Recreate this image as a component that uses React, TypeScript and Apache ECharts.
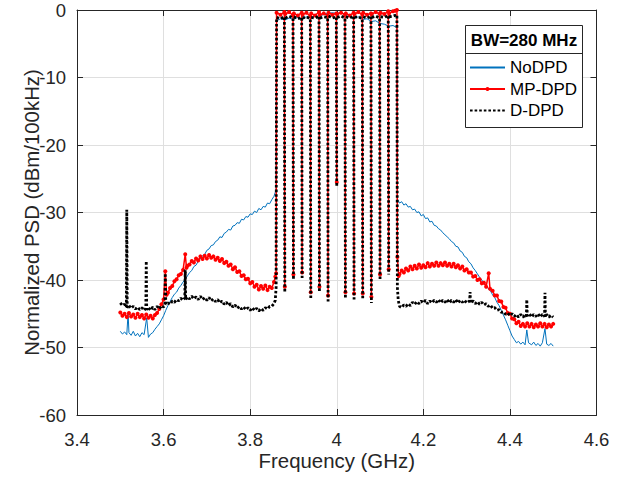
import React, { useEffect, useRef } from "react";
import * as echarts from "echarts";

// ---------- data (frequency in GHz, normalized PSD in dBm/100kHz) ----------
const xTicks = [3.4, 3.6, 3.8, 4.0, 4.2, 4.4, 4.6];
const yTicks = [-60, -50, -40, -30, -20, -10, 0];

type Pt = [number, number | null];

// NoDPD
const noDpdLeft: Pt[] = [
  [3.5, -47.6], [3.505, -48.0], [3.51, -47.7], [3.515, -48.1], [3.518, -44.9], [3.52, -47.8],
  [3.525, -48.2], [3.53, -47.6], [3.535, -48.3], [3.54, -47.9], [3.545, -48.4], [3.55, -47.8],
  [3.555, -48.1], [3.561, -45.6], [3.565, -48.5], [3.57, -48.0], [3.575, -47.8], [3.58, -47.3],
  [3.585, -46.9], [3.59, -46.5], [3.595, -45.9], [3.6, -45.3], [3.605, -44.5], [3.61, -43.8],
  [3.615, -43.2], [3.62, -42.6], [3.625, -42.1], [3.63, -41.8], [3.635, -41.2], [3.64, -40.8],
  [3.645, -40.3], [3.65, -39.9], [3.655, -39.4], [3.66, -38.9], [3.665, -38.6], [3.67, -38.0],
  [3.675, -37.8], [3.68, -37.2], [3.685, -36.9], [3.69, -36.4], [3.695, -36.2], [3.7, -35.6],
  [3.705, -35.4], [3.71, -34.9], [3.715, -34.8], [3.72, -34.3], [3.725, -34.1], [3.73, -33.6],
  [3.735, -33.7], [3.74, -33.1], [3.745, -32.9], [3.75, -32.5], [3.755, -32.6], [3.76, -32.0],
  [3.765, -31.9], [3.77, -31.5], [3.775, -31.6], [3.78, -31.0], [3.785, -31.1], [3.79, -30.6],
  [3.795, -30.7], [3.8, -30.2], [3.805, -30.3], [3.81, -29.8], [3.815, -30.0], [3.82, -29.4],
  [3.825, -29.6], [3.83, -29.1], [3.835, -29.2], [3.84, -28.6], [3.845, -28.7], [3.85, -28.1],
  [3.855, -27.6], [3.858, -27.0], [3.86, -26.5],
];
const noDpdInband: Pt[] = [
  [3.861, -1.6], [3.87, -1.3], [3.88, -1.5], [3.89, -1.2], [3.9, -1.4], [3.91, -1.1],
  [3.92, -1.3], [3.93, -1.0], [3.94, -1.2], [3.95, -0.9], [3.96, -1.1], [3.97, -0.6],
  [3.98, -0.5], [3.99, -0.4], [4.0, -0.5], [4.01, -0.4], [4.02, -0.6], [4.03, -0.9],
  [4.04, -1.2], [4.05, -1.0], [4.06, -1.4], [4.07, -1.3], [4.08, -1.7], [4.09, -1.6],
  [4.1, -2.0], [4.11, -2.1], [4.12, -2.4], [4.13, -2.3], [4.139, -2.6],
];
const noDpdRight: Pt[] = [
  [4.14, -28.0], [4.145, -28.6], [4.15, -28.4], [4.155, -28.9], [4.16, -28.7], [4.165, -29.2],
  [4.17, -29.1], [4.175, -29.6], [4.18, -29.5], [4.185, -30.0], [4.19, -29.9], [4.195, -30.5],
  [4.2, -30.3], [4.205, -30.9], [4.21, -30.8], [4.215, -31.4], [4.22, -31.3], [4.225, -31.9],
  [4.23, -32.0], [4.235, -32.4], [4.24, -32.6], [4.245, -33.0], [4.25, -33.3], [4.255, -33.6],
  [4.26, -33.9], [4.265, -34.3], [4.27, -34.5], [4.275, -35.0], [4.28, -35.1], [4.285, -35.7],
  [4.29, -35.9], [4.295, -36.5], [4.3, -36.7], [4.305, -37.3], [4.31, -37.6], [4.315, -38.2],
  [4.32, -38.6], [4.325, -39.1], [4.33, -39.6], [4.335, -40.0], [4.34, -40.5], [4.345, -40.8],
  [4.35, -41.3], [4.355, -41.6], [4.36, -42.2], [4.365, -42.6], [4.37, -43.3], [4.375, -43.8],
  [4.38, -44.5], [4.385, -45.2], [4.39, -45.9], [4.395, -46.7], [4.4, -47.5], [4.405, -48.3],
  [4.41, -48.8], [4.415, -49.3], [4.42, -49.1], [4.425, -49.5], [4.43, -49.2], [4.435, -49.6],
  [4.439, -47.4], [4.443, -49.3], [4.45, -49.6], [4.455, -49.2], [4.46, -49.7], [4.465, -49.4],
  [4.47, -49.8], [4.475, -49.3], [4.481, -47.2], [4.485, -49.5], [4.49, -49.7], [4.495, -49.4],
  [4.5, -49.8],
];

// MP-DPD
const mpDpdLeft: Pt[] = [
  [3.5, -44.8], [3.505, -45.3], [3.51, -45.0], [3.515, -45.5], [3.52, -44.9], [3.525, -45.4],
  [3.53, -45.1], [3.535, -45.6], [3.54, -45.0], [3.545, -45.5], [3.55, -45.2], [3.555, -45.7],
  [3.56, -45.1], [3.565, -45.6], [3.57, -45.3], [3.575, -45.7], [3.58, -45.2], [3.585, -44.9],
  [3.59, -44.3], [3.595, -43.6], [3.6, -42.9], [3.604, -38.7], [3.607, -42.2], [3.61, -41.9],
  [3.615, -41.2], [3.62, -40.9], [3.625, -40.2], [3.63, -39.9], [3.635, -39.3], [3.64, -39.1],
  [3.645, -38.5], [3.65, -36.2], [3.653, -38.2], [3.655, -37.9], [3.66, -37.7], [3.665, -37.2],
  [3.67, -37.4], [3.675, -36.8], [3.68, -37.1], [3.685, -36.5], [3.69, -36.9], [3.695, -36.4],
  [3.7, -36.8], [3.705, -36.3], [3.71, -36.7], [3.715, -36.5], [3.72, -37.0], [3.725, -36.7],
  [3.73, -37.2], [3.735, -36.9], [3.74, -37.5], [3.745, -37.3], [3.75, -37.9], [3.755, -37.7],
  [3.76, -38.4], [3.765, -38.1], [3.77, -38.8], [3.775, -38.7], [3.78, -39.4], [3.785, -39.3],
  [3.79, -39.9], [3.795, -39.8], [3.8, -40.5], [3.805, -40.3], [3.81, -41.0], [3.815, -40.7],
  [3.82, -41.4], [3.825, -40.9], [3.83, -41.3], [3.835, -40.8], [3.84, -41.5], [3.845, -41.0],
  [3.85, -41.2], [3.855, -40.3], [3.858, -39.5], [3.86, -39.0],
];
const mpDpdInband: Pt[] = [
  [3.861, -0.4], [3.87, -0.7], [3.879, -0.3], [3.88, -41.0], [3.8805, null],
  [3.881, -0.6], [3.89, -0.3], [3.899, -0.8], [3.9, -39.2], [3.9005, null],
  [3.901, -0.5], [3.91, -0.8], [3.919, -0.4], [3.92, -38.9], [3.9205, null],
  [3.921, -0.7], [3.93, -0.4], [3.939, -0.9], [3.94, -41.8], [3.9405, null],
  [3.941, -0.5], [3.95, -0.8], [3.959, -0.3], [3.96, -41.0], [3.9605, null],
  [3.961, -0.7], [3.97, -0.5], [3.979, -0.8], [3.98, -42.3], [3.9805, null],
  [3.981, -0.4], [3.99, -0.7], [3.999, -0.5], [4.0, -25.5], [4.0005, null],
  [4.001, -0.6], [4.01, -0.4], [4.019, -0.7], [4.02, -41.8], [4.0205, null],
  [4.021, -0.5], [4.03, -0.8], [4.039, -0.4], [4.04, -42.0], [4.0405, null],
  [4.041, -0.6], [4.05, -0.3], [4.059, -0.7], [4.06, -42.0], [4.0605, null],
  [4.061, -0.4], [4.07, -0.7], [4.079, -0.5], [4.08, -42.5], [4.0805, null],
  [4.081, -0.6], [4.09, -0.3], [4.099, -0.6], [4.1, -39.2], [4.1005, null],
  [4.101, -0.4], [4.11, -0.6], [4.119, -0.2], [4.12, -38.4], [4.1205, null],
  [4.121, -0.5], [4.13, -0.2], [4.135, -0.1], [4.139, 0.0],
];
const mpDpdRight: Pt[] = [
  [4.14, -36.6], [4.143, -39.4], [4.145, -39.1], [4.15, -38.6], [4.155, -38.9], [4.16, -38.3],
  [4.165, -38.6], [4.17, -38.0], [4.175, -38.4], [4.18, -37.9], [4.185, -38.3], [4.19, -37.7],
  [4.195, -38.2], [4.2, -37.8], [4.205, -38.1], [4.21, -37.5], [4.215, -38.0], [4.22, -37.6],
  [4.225, -37.9], [4.23, -37.4], [4.235, -37.9], [4.24, -37.5], [4.245, -37.8], [4.25, -37.4],
  [4.255, -37.9], [4.26, -37.6], [4.265, -38.0], [4.27, -37.6], [4.275, -38.1], [4.28, -37.8],
  [4.285, -38.3], [4.29, -38.0], [4.295, -38.6], [4.3, -38.4], [4.305, -38.9], [4.31, -38.9],
  [4.315, -39.5], [4.32, -39.4], [4.325, -40.0], [4.33, -39.9], [4.335, -40.5], [4.34, -40.4],
  [4.345, -41.0], [4.351, -39.0], [4.354, -41.3], [4.36, -41.6], [4.365, -42.3], [4.37, -42.3],
  [4.375, -43.1], [4.38, -43.2], [4.385, -44.0], [4.39, -44.1], [4.395, -44.9], [4.4, -45.0],
  [4.405, -45.7], [4.41, -45.8], [4.415, -46.4], [4.42, -46.2], [4.425, -46.8], [4.43, -46.5],
  [4.435, -46.9], [4.44, -46.4], [4.445, -46.9], [4.45, -46.5], [4.455, -47.0], [4.46, -46.6],
  [4.465, -46.9], [4.47, -46.4], [4.475, -46.9], [4.48, -46.5], [4.485, -47.0], [4.49, -46.6],
  [4.495, -46.9], [4.5, -46.5],
];

// D-DPD
const dDpdLeft: Pt[] = [
  [3.5, -43.4], [3.505, -43.8], [3.51, -43.6], [3.514, -44.0], [3.515, -29.6], [3.516, -44.1],
  [3.52, -43.8], [3.525, -44.2], [3.53, -43.9], [3.535, -44.3], [3.54, -44.0], [3.545, -44.4],
  [3.55, -44.1], [3.555, -44.5], [3.559, -44.2], [3.56, -37.2], [3.561, -44.4], [3.565, -44.1],
  [3.57, -44.5], [3.575, -44.0], [3.58, -44.4], [3.585, -43.9], [3.59, -44.3], [3.595, -43.8],
  [3.6, -44.0], [3.603, -43.7], [3.604, -39.0], [3.605, -43.6], [3.61, -43.4], [3.615, -43.6],
  [3.62, -43.1], [3.625, -43.3], [3.63, -42.9], [3.635, -43.1], [3.64, -42.7], [3.645, -43.0],
  [3.649, -42.7], [3.65, -38.5], [3.651, -42.9], [3.655, -42.5], [3.66, -42.8], [3.665, -42.4],
  [3.67, -42.8], [3.675, -42.5], [3.68, -42.9], [3.685, -42.4], [3.69, -42.9], [3.695, -42.6],
  [3.7, -43.0], [3.705, -42.6], [3.71, -43.1], [3.715, -42.8], [3.72, -43.2], [3.725, -42.9],
  [3.73, -43.4], [3.735, -43.1], [3.74, -43.6], [3.745, -43.3], [3.75, -43.8], [3.755, -43.5],
  [3.76, -44.0], [3.765, -43.7], [3.77, -44.2], [3.775, -43.9], [3.78, -44.3], [3.785, -44.0],
  [3.79, -44.4], [3.795, -44.1], [3.8, -44.5], [3.805, -44.1], [3.81, -44.5], [3.815, -44.2],
  [3.82, -44.6], [3.825, -44.2], [3.83, -44.5], [3.835, -44.1], [3.84, -44.3], [3.845, -43.9],
  [3.85, -43.9], [3.855, -43.5], [3.858, -43.0], [3.86, -41.0],
];
const dDpdInband: Pt[] = [
  [3.861, -1.1], [3.87, -1.3], [3.879, -1.0], [3.88, -41.9], [3.8805, null],
  [3.881, -1.2], [3.89, -0.9], [3.899, -1.2], [3.9, -40.0], [3.9005, null],
  [3.901, -1.0], [3.91, -1.3], [3.919, -1.1], [3.92, -39.7], [3.9205, null],
  [3.921, -1.2], [3.93, -1.0], [3.939, -1.3], [3.94, -42.7], [3.9405, null],
  [3.941, -1.1], [3.95, -1.2], [3.959, -0.9], [3.96, -41.9], [3.9605, null],
  [3.961, -1.2], [3.97, -1.0], [3.979, -1.1], [3.98, -43.2], [3.9805, null],
  [3.981, -0.9], [3.99, -1.2], [3.999, -1.0], [4.0, -26.3], [4.0005, null],
  [4.001, -1.1], [4.01, -0.9], [4.019, -1.2], [4.02, -42.7], [4.0205, null],
  [4.021, -1.0], [4.03, -1.2], [4.039, -0.9], [4.04, -42.9], [4.0405, null],
  [4.041, -1.1], [4.05, -1.0], [4.059, -1.3], [4.06, -42.9], [4.0605, null],
  [4.061, -1.0], [4.07, -1.2], [4.079, -0.9], [4.08, -43.4], [4.0805, null],
  [4.081, -1.1], [4.09, -0.9], [4.099, -1.2], [4.1, -40.0], [4.1005, null],
  [4.101, -1.0], [4.11, -1.1], [4.119, -0.8], [4.12, -39.2], [4.1205, null],
  [4.121, -1.0], [4.13, -0.9], [4.139, -0.7],
];
const dDpdRight: Pt[] = [
  [4.14, -41.0], [4.142, -43.0], [4.145, -43.9], [4.15, -44.1], [4.155, -43.7], [4.16, -43.9],
  [4.165, -43.5], [4.17, -43.8], [4.175, -43.3], [4.18, -43.6], [4.185, -43.2], [4.19, -43.5],
  [4.195, -43.1], [4.2, -43.4], [4.205, -43.0], [4.21, -43.5], [4.215, -43.1], [4.22, -43.4],
  [4.225, -43.0], [4.23, -43.3], [4.235, -42.9], [4.24, -43.4], [4.245, -43.0], [4.25, -43.3],
  [4.255, -42.9], [4.26, -43.4], [4.265, -43.0], [4.27, -43.3], [4.275, -42.9], [4.28, -43.4],
  [4.285, -43.0], [4.29, -43.3], [4.295, -43.0], [4.3, -43.4], [4.307, -43.1], [4.308, -41.8],
  [4.309, -43.4], [4.315, -43.1], [4.32, -43.5], [4.325, -43.2], [4.33, -43.6], [4.335, -43.3],
  [4.34, -43.7], [4.345, -43.5], [4.35, -43.9], [4.355, -43.7], [4.36, -44.2], [4.365, -44.1],
  [4.37, -44.5], [4.375, -44.4], [4.38, -44.8], [4.385, -44.7], [4.39, -45.1], [4.395, -44.9],
  [4.4, -45.3], [4.405, -45.0], [4.41, -45.4], [4.415, -45.1], [4.42, -45.5], [4.425, -45.1],
  [4.43, -45.5], [4.435, -45.2], [4.438, -45.4], [4.439, -42.9], [4.44, -45.3], [4.445, -45.0],
  [4.45, -45.5], [4.455, -45.1], [4.46, -45.4], [4.465, -45.0], [4.47, -45.5], [4.475, -45.1],
  [4.48, -45.4], [4.481, -41.9], [4.482, -45.5], [4.485, -45.1], [4.49, -45.5], [4.495, -45.2],
  [4.5, -45.5],
];

const seriesNames = ["NoDPD", "MP-DPD", "D-DPD"];
const legendTitle = "BW=280 MHz";

const FONT = "'Liberation Sans', Arial, Helvetica, sans-serif";
const AXIS_COLOR = "#262626";
const GRID_COLOR = "#dfdfdf";

export default function App() {
  const ref = useRef<HTMLDivElement>(null);

  useEffect(() => {
    if (!ref.current) return;
    const chart = echarts.init(ref.current, undefined, { renderer: "svg" });

    const xCommon = {
      type: "value" as const,
      min: xTicks[0],
      max: xTicks[xTicks.length - 1],
      interval: 0.2,
    };
    const yCommon = {
      type: "value" as const,
      min: yTicks[0],
      max: yTicks[yTicks.length - 1],
      interval: 10,
    };
    const tick = { show: true, inside: true, length: 6, lineStyle: { color: AXIS_COLOR, width: 1 } };
    const line = { show: true, onZero: false, lineStyle: { color: AXIS_COLOR, width: 1 } };

    chart.setOption({
      animation: false,
      backgroundColor: "#ffffff",
      textStyle: { fontFamily: FONT },
      grid: { left: 77, right: 27.5, top: 10, bottom: 66, containLabel: false, outerBoundsMode: "none" },
      xAxis: [
        {
          ...xCommon,
          position: "bottom",
          name: "Frequency (GHz)",
          nameLocation: "middle",
          nameGap: 36,
          nameMoveOverlap: false,
          nameTextStyle: { fontSize: 20.4, color: AXIS_COLOR, fontFamily: FONT },
          axisLine: line,
          axisTick: tick,
          axisLabel: { fontSize: 18.5, color: AXIS_COLOR, margin: 15, fontFamily: FONT },
          splitLine: { show: true, lineStyle: { color: GRID_COLOR, width: 1 } },
        },
        {
          ...xCommon,
          position: "top",
          axisLine: line,
          axisTick: tick,
          axisLabel: { show: false },
          splitLine: { show: false },
        },
      ],
      yAxis: [
        {
          ...yCommon,
          position: "left",
          name: "Normalized PSD (dBm/100kHz)",
          nameLocation: "middle",
          nameGap: 35,
          nameMoveOverlap: false,
          nameTextStyle: { fontSize: 20.4, color: AXIS_COLOR, fontFamily: FONT },
          axisLine: line,
          axisTick: tick,
          axisLabel: { fontSize: 18.5, color: AXIS_COLOR, margin: 11, fontFamily: FONT },
          splitLine: { show: true, lineStyle: { color: GRID_COLOR, width: 1 } },
        },
        {
          ...yCommon,
          position: "right",
          axisLine: line,
          axisTick: tick,
          axisLabel: { show: false },
          splitLine: { show: false },
        },
      ],
      legend: {
        data: [
          { name: seriesNames[0], itemStyle: { opacity: 0 } },
          { name: seriesNames[1] },
          { name: seriesNames[2], itemStyle: { opacity: 0 } },
        ],
        orient: "vertical",
        left: 469,
        top: 59,
        padding: 0,
        itemWidth: 35,
        itemHeight: 5,
        itemGap: 4.5,
        selectedMode: false,
        z: 20,
        textStyle: { fontSize: 17, color: "#000", fontFamily: FONT },
      },
      graphic: [
        {
          type: "rect",
          z: 10,
          shape: { x: 465.5, y: 25.5, width: 117, height: 102 },
          style: { fill: "#ffffff", stroke: AXIS_COLOR, lineWidth: 1 },
        },
        {
          type: "line",
          z: 11,
          shape: { x1: 465.5, y1: 53.5, x2: 582.5, y2: 53.5 },
          style: { stroke: AXIS_COLOR, lineWidth: 1 },
        },
        {
          type: "text",
          z: 11,
          x: 524,
          y: 40,
          style: {
            text: legendTitle,
            fontSize: 17,
            fontWeight: "bold",
            fontFamily: FONT,
            fill: "#000",
            align: "center",
            verticalAlign: "middle",
          },
        },
      ],
      series: [
        {
          name: seriesNames[0],
          type: "line",
          xAxisIndex: 0,
          yAxisIndex: 0,
          data: [...noDpdLeft, ...noDpdInband, ...noDpdRight],
          symbol: "none",
          color: "#0072BD",
          lineStyle: { color: "#0072BD", width: 1 },
          z: 2,
        },
        {
          name: seriesNames[1],
          type: "line",
          xAxisIndex: 0,
          yAxisIndex: 0,
          data: [...mpDpdLeft, ...mpDpdInband, ...mpDpdRight],
          symbol: "circle",
          symbolSize: 4,
          showSymbol: true,
          showAllSymbol: true,
          connectNulls: false,
          color: "#FF0000",
          itemStyle: { color: "#FF0000", borderWidth: 0 },
          lineStyle: { color: "#FF0000", width: 1.5 },
          z: 3,
        },
        {
          name: seriesNames[2],
          type: "line",
          xAxisIndex: 0,
          yAxisIndex: 0,
          data: [...dDpdLeft, ...dDpdInband, ...dDpdRight],
          symbol: "none",
          connectNulls: false,
          color: "#000000",
          lineStyle: { color: "#000000", width: 2.8, type: [2.6, 2] },
          z: 4,
        },
      ],
    });

    return () => chart.dispose();
  }, []);

  return (
    <div
      ref={ref}
      style={{ position: "fixed", left: 0, top: 0, width: 624, height: 481, background: "#fff" }}
    />
  );
}
